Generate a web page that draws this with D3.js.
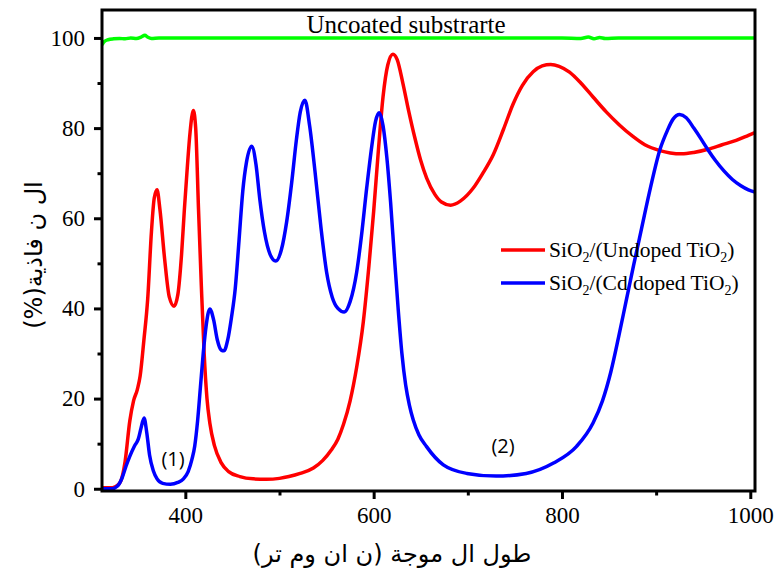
<!DOCTYPE html>
<html>
<head>
<meta charset="utf-8">
<script src="https://cdn.jsdelivr.net/npm/d3@7"></script>
<style>
  body { margin: 0; background: #fff; }
  .tick text { font-family: "Liberation Serif", serif; font-size: 23px; fill: #000; }
  .tick line { stroke: #000; }
</style>
</head>
<body>
<div id="chart"></div>
<script>
var width = 775, height = 578;
var margin = {top: 10, right: 20, bottom: 87, left: 102};

// wavelength (nm) / transmittance (%)
let redWl = [311.5, 320, 326, 331, 336, 341, 345, 349, 352, 356, 360, 364, 367, 370, 373, 378, 383, 388, 392, 396, 399, 402, 405, 408.5, 411, 414, 417, 420, 423, 426, 431, 438, 446, 458, 472, 486, 500, 510, 522, 536, 546, 555, 562, 568, 575, 582, 589, 595, 600, 605, 610, 615, 620.5, 625, 631, 637, 643.8, 650, 656.3, 665, 672, 681.7, 692, 705.8, 716, 727, 738, 748, 758, 769.4, 779, 788, 797, 808, 820, 833, 847, 861, 875, 888, 904, 915, 927, 940, 955, 970, 985, 998, 1005];
let redT  = [0.2, 0.2, 0.5, 1.5, 6, 15, 19.5, 22, 25, 33, 42, 57, 64.5, 66.3, 62, 51, 42.5, 40.5, 43, 52, 62, 71, 79, 83.9, 80, 62, 45, 30, 20, 14.6, 9.5, 5.8, 3.8, 2.7, 2.2, 2.1, 2.3, 2.7, 3.4, 4.6, 6.3, 8.6, 11, 14.3, 19.5, 27, 37, 49.5, 61.5, 75, 87, 94, 96.4, 95.2, 90, 84, 77.8, 72.8, 68.9, 65.3, 63.6, 62.9, 63.8, 66.7, 70, 74.1, 79.8, 85.3, 89.5, 92.5, 93.8, 94.1, 93.7, 92.4, 90, 86.9, 83.6, 80.7, 78.2, 76.3, 75, 74.5, 74.3, 74.6, 75.3, 76.3, 77.3, 78.4, 79];

let blueWl = [311.5, 322, 328, 333, 337, 341, 346, 350, 353, 356.2, 359, 362, 366, 370, 376, 384, 392, 398, 403, 407, 410, 413, 416, 419, 422, 426, 430, 434, 438, 441, 445, 449, 453, 457, 461, 465, 470.5, 475, 479, 484, 490, 496, 502, 507.6, 513, 518, 522, 527, 532, 537.7, 544, 550, 556, 562, 568.8, 575, 582, 587, 592.6, 598, 602, 606, 610, 614, 618, 622, 626, 630, 634, 638, 642, 648, 656, 674, 699, 730, 762, 791, 815.5, 833, 843, 852, 860, 868, 876, 884.5, 894, 904, 912, 918, 925, 932, 940, 948, 955, 963, 972, 981, 990, 998, 1005];
let blueT  = [0, 0, 0.6, 2.5, 5, 7.2, 9.5, 11, 13.5, 15.7, 12.5, 7.5, 4, 2.2, 1.2, 1, 1.4, 2.2, 3.8, 6.5, 9.5, 15, 22.5, 30, 36, 39.9, 37.5, 33, 30.8, 30.6, 33, 38, 44.4, 55, 66, 72.5, 76, 72, 64.4, 57, 52, 50.5, 53, 59.2, 68, 77.5, 83.5, 86.2, 80.5, 70.4, 58, 48.1, 42.5, 40, 39.2, 41.5, 48.1, 56, 66.7, 76, 81.5, 83.4, 80.5, 73.5, 63.5, 51.5, 40, 30, 23, 18.5, 15.3, 12, 9.4, 5.3, 3.4, 2.8, 3.4, 5.7, 9.4, 14.6, 19.5, 26, 33.5, 41.5, 49.5, 57.7, 66.8, 75.2, 79.5, 82, 83, 82.3, 80, 77.5, 75.2, 72.8, 70.5, 68.6, 67.2, 66.3, 65.8];

let greenWl = [311.5, 314, 318, 324, 330, 336, 342, 348, 353, 357, 360, 364, 372, 400, 450, 500, 560, 620, 680, 740, 800, 820, 828, 834, 840, 846, 860, 900, 950, 1005];
let greenT  = [98.5, 99.2, 99.6, 99.8, 99.9, 99.8, 100, 99.9, 100.2, 100.6, 100.2, 99.9, 100, 100, 100, 100, 100, 100, 100, 100, 100, 99.9, 100.2, 99.8, 100.1, 99.9, 100, 100, 100, 100];

let xMajor = [400, 600, 800, 1000];
let xMinor = [500, 700, 900];
let yMajor = [0, 20, 40, 60, 80, 100];
let yMinor = [10, 30, 50, 70, 90];

let svg = d3.select('#chart')
  .append('svg')
  .attr('width', width)
  .attr('height', height);

let x = d3.scaleLinear().domain([311.5, 1005]).range([margin.left, width - margin.right]);
let y = d3.scaleLinear().domain([-0.5, 106.2]).range([height - margin.bottom, margin.top]);

let line = d3.line()
  .x(d => x(d[0]))
  .y(d => y(d[1]))
  .curve(d3.curveMonotoneX);

let series = [
  {wl: greenWl, t: greenT, color: '#00ff00'},
  {wl: redWl, t: redT, color: '#ff0000'},
  {wl: blueWl, t: blueT, color: '#0000ff'}
];

svg.append('clipPath').attr('id', 'clip')
  .append('rect')
  .attr('x', margin.left).attr('y', margin.top)
  .attr('width', width - margin.left - margin.right)
  .attr('height', height - margin.top - margin.bottom);

svg.append('g').attr('clip-path', 'url(#clip)')
  .selectAll('path')
  .data(series)
  .enter()
  .append('path')
  .attr('d', s => line(s.wl.map((w, i) => [w, s.t[i]])))
  .attr('fill', 'none')
  .attr('stroke', s => s.color)
  .attr('stroke-width', 3.5)
  .attr('stroke-linejoin', 'round');

// axes
let xAxis = d3.axisBottom(x).tickValues(xMajor).tickSize(8).tickPadding(8).tickFormat(d3.format('d'));
let xAxisMinor = d3.axisBottom(x).tickValues(xMinor).tickSize(4.5).tickFormat('');
let yAxis = d3.axisLeft(y).tickValues(yMajor).tickSize(8).tickPadding(9).tickFormat(d3.format('d'));
let yAxisMinor = d3.axisLeft(y).tickValues(yMinor).tickSize(4.5).tickFormat('');

[xAxis, xAxisMinor].forEach(ax => {
  svg.append('g')
    .attr('transform', `translate(0, ${height - margin.bottom})`)
    .call(ax)
    .call(g => g.select('.domain').remove())
    .call(g => g.selectAll('line').attr('stroke', '#000').attr('stroke-width', 3));
});
[yAxis, yAxisMinor].forEach(ax => {
  svg.append('g')
    .attr('transform', `translate(${margin.left}, 0)`)
    .call(ax)
    .call(g => g.select('.domain').remove())
    .call(g => g.selectAll('line').attr('stroke', '#000').attr('stroke-width', 3));
});

// frame
svg.append('rect')
  .attr('x', margin.left).attr('y', margin.top)
  .attr('width', width - margin.left - margin.right)
  .attr('height', height - margin.top - margin.bottom)
  .attr('fill', 'none')
  .attr('stroke', '#000')
  .attr('stroke-width', 3);

// axis titles
svg.append('text')
  .attr('x', 392)
  .attr('y', 562)
  .attr('text-anchor', 'middle')
  .attr('direction', 'rtl')
  .style('font-family', '"DejaVu Sans", sans-serif')
  .style('font-size', '24px')
  .text('طول ال موجة (ن ان وم  تر)');

svg.append('text')
  .attr('transform', 'translate(42, 255) rotate(-90)')
  .attr('text-anchor', 'middle')
  .attr('direction', 'rtl')
  .style('font-family', '"DejaVu Sans", sans-serif')
  .style('font-size', '24px')
  .text('ال  ن  فاذية(%)');

// annotations
svg.append('text')
  .attr('x', 406).attr('y', 33)
  .attr('text-anchor', 'middle')
  .style('font-family', '"Liberation Serif", serif')
  .style('font-size', '25px')
  .text('Uncoated substrarte');

[['(1)', 173, 466], ['(2)', 503, 453]].forEach(a => {
  svg.append('text')
    .attr('x', a[1]).attr('y', a[2])
    .attr('text-anchor', 'middle')
    .style('font-family', '"Open Sans", sans-serif')
    .style('font-size', '20px')
    .text(a[0]);
});

// legend
let legend = [
  {color: '#ff0000', name: 'Undoped TiO'},
  {color: '#0000ff', name: 'Cd doped TiO'}
];
legend.forEach((l, i) => {
  let ly = 250 + i * 33;
  svg.append('line')
    .attr('x1', 501).attr('x2', 545)
    .attr('y1', ly).attr('y2', ly)
    .attr('stroke', l.color)
    .attr('stroke-width', 3.5);
  let t = svg.append('text')
    .attr('x', 549).attr('y', ly + 7)
    .style('font-family', '"Liberation Serif", serif')
    .style('font-size', '21.5px');
  t.append('tspan').text('SiO');
  t.append('tspan').attr('dy', 5).style('font-size', '14px').text('2');
  t.append('tspan').attr('dy', -5).text('/(' + l.name);
  t.append('tspan').attr('dy', 5).style('font-size', '14px').text('2');
  t.append('tspan').attr('dy', -5).text(')');
});
</script>
</body>
</html>
